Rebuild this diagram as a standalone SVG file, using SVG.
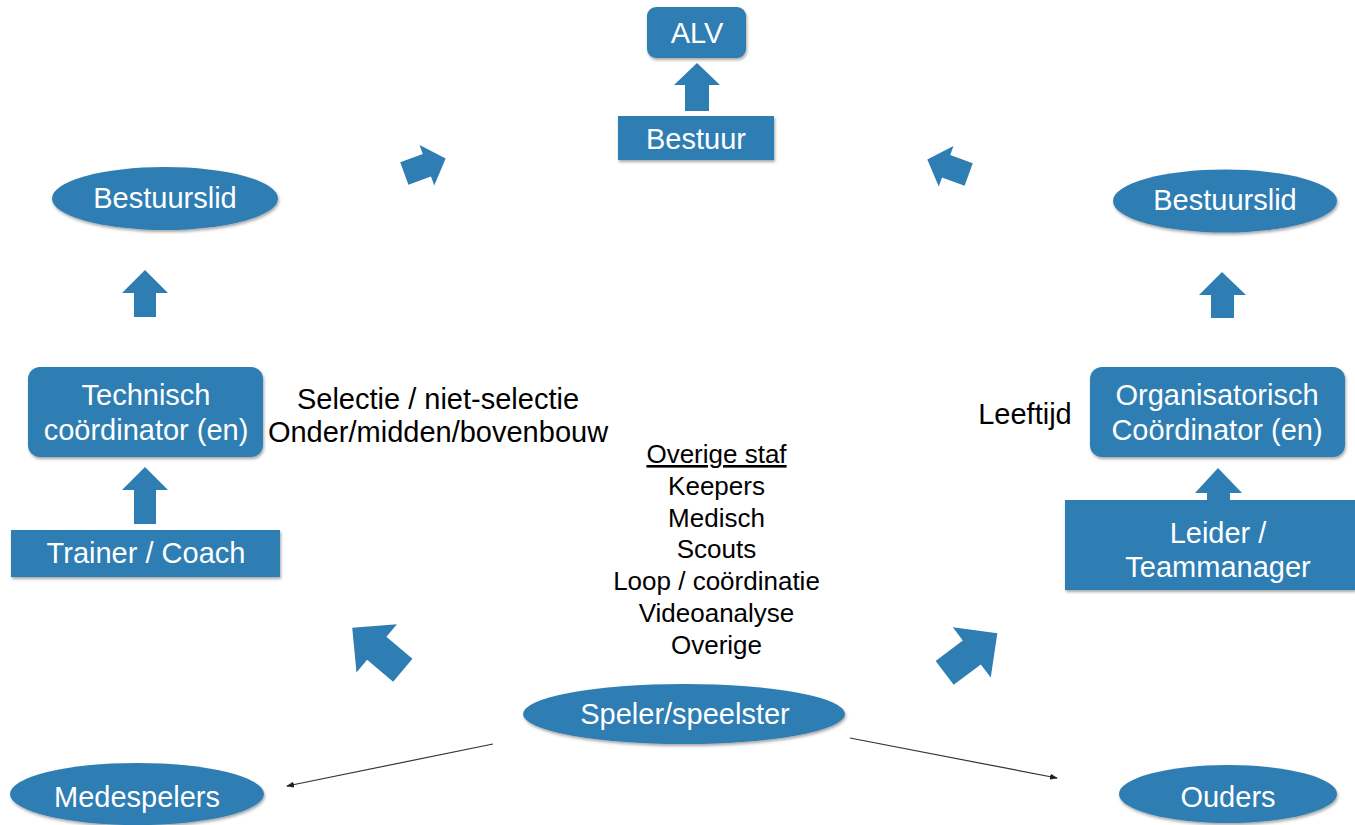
<svg xmlns="http://www.w3.org/2000/svg" width="1355" height="825" viewBox="0 0 1355 825">
  <style>
    .n { fill: #2e7db3; filter: url(#sh); }
    .blk { fill: #2e7db3; }
    .wt { fill: #ffffff; font-family: "Liberation Sans", Arial, sans-serif; font-size: 29px; text-anchor: middle; }
    .bt { fill: #000000; font-family: "Liberation Sans", Arial, sans-serif; text-anchor: middle; }
    .thin { stroke: #333333; stroke-width: 1.2; fill: none; marker-end: url(#ah); }
  </style>
  <defs>
    <filter id="sh" x="-10%" y="-10%" width="120%" height="130%">
      <feDropShadow dx="1" dy="2" stdDeviation="1.5" flood-color="#000" flood-opacity="0.35"/>
    </filter>
    <marker id="ah" markerWidth="8" markerHeight="6" refX="7" refY="3" orient="auto" markerUnits="userSpaceOnUse">
      <path d="M0,0 L8,3 L0,6 Z" fill="#222"/>
    </marker>
    <path id="sa" d="M0,-22 L21.5,-2 L12,-2 L12,22 L-12,22 L-12,-2 L-21.5,-2 Z"/>
    <path id="ba" d="M0,-33 L31.5,-1 L15,-1 L15,33 L-15,33 L-15,-1 L-31.5,-1 Z"/>
  </defs>
  <rect width="1355" height="825" fill="#ffffff"/>

  <g id="connectors">
    <polygon class="blk" points="697,63 720,85 709,85 709,111 685,111 685,85 674,85"/>
    <polygon class="blk" points="145,270 168,293 156,293 156,317 134,317 134,293 122,293"/>
    <polygon class="blk" points="145,467 168,490 156,490 156,524 134,524 134,490 122,490"/>
    <polygon class="blk" points="1222,272 1246,295 1234,295 1234,318 1211,318 1211,295 1199,295"/>
    <polygon class="blk" points="1218,468 1242,493 1230,493 1230,505 1207,505 1207,493 1195,493"/>
    <use href="#sa" class="blk" transform="translate(425,166) rotate(70)"/>
    <use href="#sa" class="blk" transform="translate(948,167) rotate(-70)"/>
    <use href="#ba" class="blk" transform="translate(377.5,649) rotate(-50)"/>
    <use href="#ba" class="blk" transform="translate(971,653) rotate(53)"/>
    <line class="thin" x1="493" y1="744" x2="287" y2="786"/>
    <line class="thin" x1="850" y1="738" x2="1057" y2="778"/>
  </g>

  <g id="alv">
    <rect class="n" x="647" y="7" width="99" height="51" rx="9"/>
    <text class="wt" x="697" y="43">ALV</text>
  </g>
  <g id="bestuur">
    <rect class="n" x="618" y="116" width="156" height="44"/>
    <text class="wt" x="696" y="149">Bestuur</text>
  </g>
  <g id="bestuurslid-links">
    <ellipse class="n" cx="165" cy="198.5" rx="113" ry="31.5"/>
    <text class="wt" x="165" y="208">Bestuurslid</text>
  </g>
  <g id="bestuurslid-rechts">
    <ellipse class="n" cx="1225" cy="201" rx="112" ry="31.5"/>
    <text class="wt" x="1225" y="210">Bestuurslid</text>
  </g>
  <g id="technisch">
    <rect class="n" x="28" y="367" width="235" height="90" rx="12"/>
    <text class="wt" x="146" y="405">Technisch</text>
    <text class="wt" x="146" y="440">coördinator (en)</text>
  </g>
  <g id="trainer">
    <rect class="n" x="11" y="530" width="269" height="47"/>
    <text class="wt" x="146" y="563">Trainer / Coach</text>
  </g>
  <g id="organisatorisch">
    <rect class="n" x="1090" y="367" width="255" height="90" rx="12"/>
    <text class="wt" x="1217" y="405">Organisatorisch</text>
    <text class="wt" x="1217" y="440">Coördinator (en)</text>
  </g>
  <g id="leider">
    <rect class="n" x="1065" y="500" width="290" height="90"/>
    <text class="wt" x="1218" y="543">Leider /</text>
    <text class="wt" x="1218" y="577">Teammanager</text>
  </g>
  <g id="speler">
    <ellipse class="n" cx="684" cy="714" rx="161" ry="30"/>
    <text class="wt" x="685" y="724">Speler/speelster</text>
  </g>
  <g id="medespelers">
    <ellipse class="n" cx="137" cy="794" rx="127" ry="31"/>
    <text class="wt" x="137" y="807">Medespelers</text>
  </g>
  <g id="ouders">
    <ellipse class="n" cx="1228" cy="794" rx="109" ry="29"/>
    <text class="wt" x="1228" y="807">Ouders</text>
  </g>

  <g id="labels">
    <text class="bt" x="438" y="409" font-size="29">Selectie / niet-selectie</text>
    <text class="bt" x="438" y="442" font-size="29">Onder/midden/bovenbouw</text>
    <text class="bt" x="1025" y="424" font-size="29">Leeftijd</text>
    <text class="bt" x="716.5" y="463" font-size="26" text-decoration="underline">Overige staf</text>
    <text class="bt" x="716.5" y="495" font-size="26">Keepers</text>
    <text class="bt" x="716.5" y="527" font-size="26">Medisch</text>
    <text class="bt" x="716.5" y="558" font-size="26">Scouts</text>
    <text class="bt" x="716.5" y="590" font-size="26">Loop / coördinatie</text>
    <text class="bt" x="716.5" y="622" font-size="26">Videoanalyse</text>
    <text class="bt" x="716.5" y="654" font-size="26">Overige</text>
  </g>
</svg>
